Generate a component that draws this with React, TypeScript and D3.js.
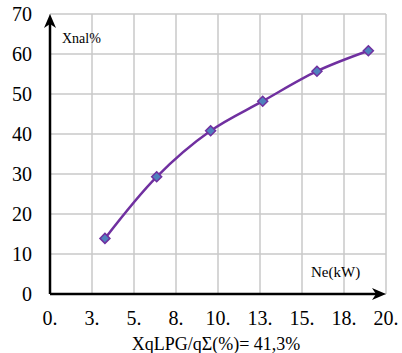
import React from "react";
import * as d3 from "d3";

const neValues = [3.27, 6.35, 9.56, 12.66, 15.89, 18.95];
const xnalValues = [13.9, 29.3, 40.8, 48.2, 55.7, 60.8];
const xTicks = [0, 2.5, 5, 7.5, 10, 12.5, 15, 17.5, 20];
const xTickLabels = ["0.", "3.", "5.", "8.", "10.", "13.", "15.", "18.", "20."];
const yTicks = [0, 10, 20, 30, 40, 50, 60, 70];
const yLabel = "Xnal%";
const xLabel = "Ne(kW)";
const caption = "XqLPG/qΣ(%)= 41,3%";

const W = 402;
const H = 353;
const padL = 50;
const padR = 386;
const padT = 14;
const padB = 294;

export default function App() {
  const x = d3.scaleLinear().domain([0, 20]).range([padL, padR]);
  const y = d3.scaleLinear().domain([0, 70]).range([padB, padT]);
  const pts = neValues.map((v, i) => [v, xnalValues[i]] as [number, number]);
  const line = d3
    .line<[number, number]>()
    .x((d) => x(d[0]))
    .y((d) => y(d[1]))
    .curve(d3.curveCatmullRom.alpha(0.5));
  const diamond = (cx: number, cy: number, r: number) =>
    `M${cx},${cy - r}L${cx + r},${cy}L${cx},${cy + r}L${cx - r},${cy}Z`;

  return (
    <svg width={W} height={H} style={{ position: "absolute", left: 0, top: 0 }}>
      {xTicks.map((t) => (
        <line key={"gx" + t} x1={x(t)} x2={x(t)} y1={y(70)} y2={y(0)} stroke="#c8c8c8" strokeWidth={1.5} />
      ))}
      {yTicks.map((t) => (
        <line key={"gy" + t} x1={x(0)} x2={x(20)} y1={y(t)} y2={y(t)} stroke="#c8c8c8" strokeWidth={1.5} />
      ))}
      <line x1={x(0)} x2={x(20) - 6} y1={y(0)} y2={y(0)} stroke="#000" strokeWidth={2.5} />
      <line x1={x(0)} x2={x(0)} y1={y(0)} y2={y(70) + 6} stroke="#000" strokeWidth={2.5} />
      <path
        d={`M${x(20)},${y(0)}L${x(20) - 14},${y(0) - 6}L${x(20) - 10},${y(0)}L${x(20) - 14},${y(0) + 6}Z`}
        fill="#000"
      />
      <path
        d={`M${x(0)},${y(70)}L${x(0) - 6},${y(70) + 14}L${x(0)},${y(70) + 10}L${x(0) + 6},${y(70) + 14}Z`}
        fill="#000"
      />
      {yTicks.map((t) => (
        <text key={"yl" + t} x={32} y={y(t) + 7} textAnchor="end" fontFamily="Times New Roman" fontSize={20}>
          {t}
        </text>
      ))}
      {xTicks.map((t, i) => (
        <text key={"xl" + t} x={x(t)} y={325} textAnchor="middle" fontFamily="Times New Roman" fontSize={20}>
          {xTickLabels[i]}
        </text>
      ))}
      <text x={62} y={43} fontFamily="Times New Roman" fontSize={14}>
        {yLabel}
      </text>
      <text x={311} y={277} fontFamily="Times New Roman" fontSize={15}>
        {xLabel}
      </text>
      <text x={216} y={350} textAnchor="middle" fontFamily="Times New Roman" fontSize={18}>
        {caption}
      </text>
      <path d={line(pts) || ""} fill="none" stroke="#7030A0" strokeWidth={2.5} />
      {pts.map((p, i) => (
        <path key={"m" + i} d={diamond(x(p[0]), y(p[1]), 5)} fill="#4F81BD" stroke="#7030A0" strokeWidth={1.5} />
      ))}
    </svg>
  );
}
